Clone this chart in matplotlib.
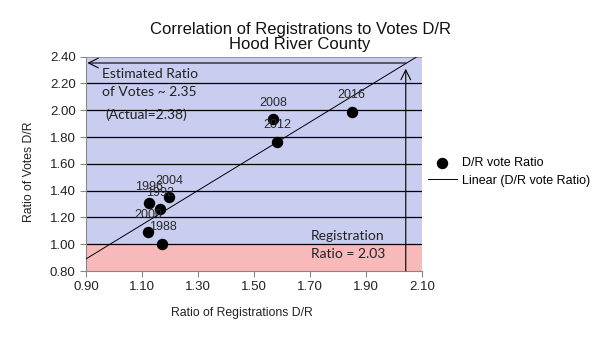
import numpy as np
import matplotlib
matplotlib.use('Agg')
import matplotlib.pyplot as plt

# registration ratio (D/R) vs vote ratio (D/R), by election year
years = ['1988', '1992', '1996', '2000', '2004', '2008', '2012', '2016']
reg_ratio = [1.173, 1.165, 1.126, 1.122, 1.198, 1.569, 1.583, 1.849]
vote_ratio = [1.002, 1.261, 1.306, 1.092, 1.351, 1.933, 1.766, 1.990]

reg_2020 = 2.042      # registration ratio marker line
est_votes = 2.353     # estimated vote ratio marker line
vote_split = 1.0      # below this R wins (pink band)

x_ticks = [0.90, 1.10, 1.30, 1.50, 1.70, 1.90, 2.10]
y_ticks = [0.80, 1.00, 1.20, 1.40, 1.60, 1.80, 2.00, 2.20, 2.40]

plt.rcParams['font.family'] = ['Liberation Sans', 'DejaVu Sans']

fig = plt.figure(figsize=(6.05, 3.4), dpi=100)
ax = fig.add_axes([86/605, 1 - 271/340, 336/605, (271 - 56.7)/340])

ax.set_xlim(x_ticks[0], x_ticks[-1])
ax.set_ylim(y_ticks[0], y_ticks[-1])

ax.axhspan(vote_split, y_ticks[-1], color='#c9cdf0', lw=0, zorder=0)
ax.axhspan(y_ticks[0], vote_split, color='#f8b9bb', lw=0, zorder=0)
for y in y_ticks[1:-1]:
    ax.axhline(y, color='black', lw=0.9, zorder=1)

# linear trend line (least squares), extended over the whole axis
slope, icpt = np.polyfit(reg_ratio, vote_ratio, 1)
xs = np.array([x_ticks[0], x_ticks[-1]])
trend, = ax.plot(xs, slope * xs + icpt, color='black', lw=0.7, zorder=3,
                 label='Linear (D/R vote Ratio)')

dots = ax.scatter(reg_ratio, vote_ratio, s=52, color='black', zorder=4,
                  label='D/R vote Ratio')
for yr, x, y in zip(years, reg_ratio, vote_ratio):
    ax.annotate(yr, (x, y), xytext=(0, 11.9), textcoords='offset points',
                ha='center', va='center', fontsize=9, color='#2a2a2a', zorder=5)

# arrows
ax.annotate('', xy=(x_ticks[0] + 0.005, est_votes), xytext=(reg_2020, est_votes),
            arrowprops=dict(arrowstyle='->,head_length=0.5,head_width=0.25',
                            lw=0.8, color='black', shrinkA=0, shrinkB=0,
                            mutation_scale=14), zorder=3)
ax.annotate('', xy=(reg_2020, 2.31), xytext=(reg_2020, y_ticks[0]),
            arrowprops=dict(arrowstyle='->,head_length=0.5,head_width=0.25',
                            lw=0.8, color='black', shrinkA=0, shrinkB=0,
                            mutation_scale=14), zorder=3)

note = dict(fontsize=10, family=['Lato', 'DejaVu Sans'], color='#222222',
            va='center', ha='left', transform=fig.transFigure)
fig.text(101.7/605, 1 - 74/340, 'Estimated Ratio', **note)
fig.text(101.7/605, 1 - 92/340, 'of Votes ~ 2.35', **note)
fig.text(105/605, 1 - 115/340, '(Actual=2.38)', **note)
fig.text(310.7/605, 1 - 236/340, 'Registration', **note)
fig.text(310.7/605, 1 - 254.5/340, 'Ratio = 2.03', **note)

ax.set_xticks(x_ticks)
ax.set_yticks(y_ticks)
ax.set_xticklabels(['%.2f' % v for v in x_ticks])
ax.set_yticklabels(['%.2f' % v for v in y_ticks])
ax.tick_params(labelsize=9.5, labelcolor='#222222', color='#888888',
               length=4, width=0.8, direction='out')
for side in ['top', 'right']:
    ax.spines[side].set_visible(False)
for side in ['left', 'bottom']:
    ax.spines[side].set_color('#888888')
    ax.spines[side].set_linewidth(0.8)
ax.axhline(y_ticks[-1], color='#999999', lw=0.8, zorder=1)

ax.set_xlabel('Ratio of Registrations D/R', fontsize=8.8, color='#222222')
ax.set_ylabel('Ratio of Votes D/R', fontsize=8.8, color='#222222')
ax.xaxis.set_label_coords((241.7 - 86)/336, -(307 - 271)/214.3)
ax.yaxis.set_label_coords((35 - 86)/336, (271 - 172)/214.3)

fig.text(300/605, 1 - 37/340, 'Correlation of Registrations to Votes D/R\nHood River County',
         ha='center', va='center', fontsize=12, color='#111111', linespacing=1.0)

fig.legend(handles=[dots, trend], loc='center left',
           bbox_to_anchor=(428/605, 1 - 171.7/340), frameon=False,
           fontsize=9, handlelength=2.3, handletextpad=0.45, labelspacing=0.45,
           borderpad=0, borderaxespad=0, scatterpoints=1)

fig.savefig('out.png', dpi=100)
